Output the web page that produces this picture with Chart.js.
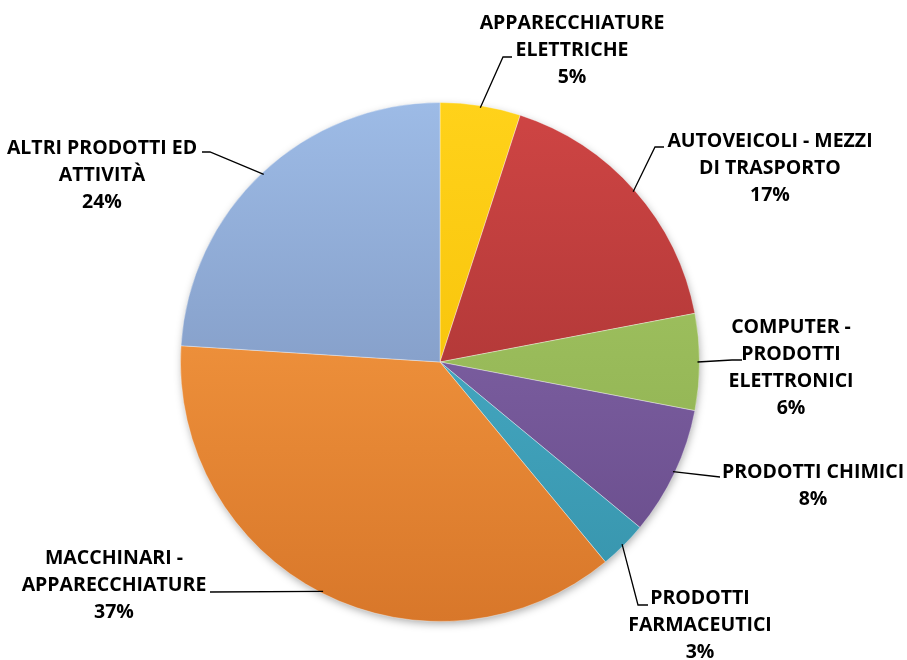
<!DOCTYPE html>
<html>
<head>
<meta charset="utf-8">
<script src="https://cdn.jsdelivr.net/npm/chart.js@4"></script>
<style>
  html, body { margin: 0; padding: 0; background: #fff; }
  #wrap { width: 907px; height: 660px; }
</style>
</head>
<body>
<div id="wrap"><canvas id="torta"></canvas></div>
<script>
// categorie (righe dell'etichetta) e percentuali, in senso orario dall'alto
const categorie = [
    ['APPARECCHIATURE', 'ELETTRICHE'],
    ['AUTOVEICOLI - MEZZI', 'DI TRASPORTO'],
    ['COMPUTER -', 'PRODOTTI', 'ELETTRONICI'],
    ['PRODOTTI CHIMICI'],
    ['PRODOTTI', 'FARMACEUTICI'],
    ['MACCHINARI -', 'APPARECCHIATURE'],
    ['ALTRI PRODOTTI ED', 'ATTIVITÀ']
];
const percentuali = [5, 17, 6, 8, 3, 37, 24];

// colori: chiaro in alto, scuro in basso
const coloriChiari = ['#ffd21a', '#cf4544', '#a8cb68', '#8b6db2', '#4fb6d1', '#ffa448', '#9dbbe6'];
const coloriScuri  = ['#f2b900', '#9a2e2e', '#89aa4b', '#664a88', '#3693ab', '#d8772a', '#7187b0'];

// dove stanno le etichette e le linee guida (posizione del testo, gomito, fine)
const posEtichette = [
    { x: 572, y: 23,  gomito: [503, 57],  fine: [512, 57] },
    { x: 770, y: 141, gomito: [655, 147], fine: [664, 147] },
    { x: 791, y: 327, gomito: [732, 360], fine: [742, 360] },
    { x: 813, y: 472, gomito: [720, 477], fine: [720, 477] },
    { x: 700, y: 598, gomito: [638, 605], fine: [648, 605] },
    { x: 114, y: 558, gomito: [210, 592], fine: [210, 592] },
    { x: 102, y: 148, gomito: [210, 152], fine: [202, 152] }
];

function sfumatura(context) {
    const chart = context.chart;
    const area = chart.chartArea;
    const i = context.dataIndex;
    if (!area) return coloriChiari[i];
    const g = chart.ctx.createLinearGradient(0, area.top, 0, area.bottom);
    g.addColorStop(0, coloriChiari[i]);
    g.addColorStop(1, coloriScuri[i]);
    return g;
}

const ombraPlugin = {
    id: 'ombra',
    beforeDatasetsDraw(chart) {
        const arc = chart.getDatasetMeta(0).data[0];
        if (!arc) return;
        const ctx = chart.ctx;
        ctx.save();
        ctx.shadowColor = 'rgba(0,0,0,0.35)';
        ctx.shadowBlur = 8;
        ctx.shadowOffsetX = 1;
        ctx.shadowOffsetY = 3;
        ctx.fillStyle = '#fff';
        ctx.beginPath();
        ctx.arc(arc.x, arc.y, arc.outerRadius - 1, 0, Math.PI * 2);
        ctx.fill();
        ctx.restore();
    }
};

const etichettePlugin = {
    id: 'etichette',
    afterDatasetsDraw(chart) {
        const ctx = chart.ctx;
        const meta = chart.getDatasetMeta(0);
        ctx.save();
        meta.data.forEach((arc, i) => {
            const p = posEtichette[i];
            const mezzo = (arc.startAngle + arc.endAngle) / 2;
            const r = arc.outerRadius - 2;
            const sx = arc.x + Math.cos(mezzo) * r;
            const sy = arc.y + Math.sin(mezzo) * r;

            ctx.strokeStyle = '#000';
            ctx.lineWidth = 1.3;
            ctx.beginPath();
            ctx.moveTo(sx, sy);
            ctx.lineTo(p.gomito[0], p.gomito[1]);
            ctx.lineTo(p.fine[0], p.fine[1]);
            ctx.stroke();

            const righe = categorie[i].concat([percentuali[i] + '%']);
            ctx.fillStyle = '#000';
            ctx.font = 'bold 19.5px "Open Sans", sans-serif';
            ctx.textAlign = 'center';
            ctx.textBaseline = 'middle';
            righe.forEach((t, k) => {
                ctx.fillText(t, p.x, p.y + k * 27);
            });
        });
        ctx.restore();
    }
};

new Chart(document.getElementById('torta'), {
    type: 'pie',
    data: {
        labels: categorie.map(c => c.join(' ')),
        datasets: [{
            data: percentuali,
            backgroundColor: sfumatura,
            borderColor: 'rgba(255,255,255,0.35)',
            borderWidth: 1
        }]
    },
    options: {
        responsive: true,
        maintainAspectRatio: false,
        animation: false,
        layout: { padding: { top: 102, bottom: 38, left: 180, right: 207 } },
        plugins: {
            legend: { display: false },
            tooltip: { enabled: false }
        }
    },
    plugins: [ombraPlugin, etichettePlugin]
});
</script>
</body>
</html>
